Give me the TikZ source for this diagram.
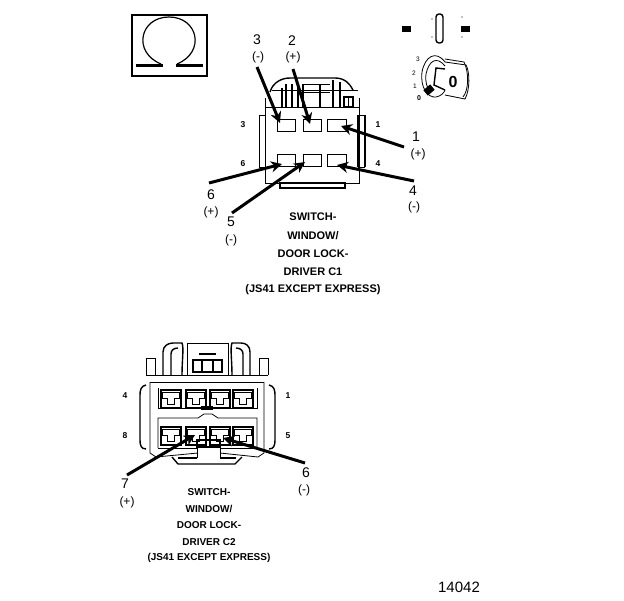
\documentclass[tikz,border=0pt]{standalone}
\usepackage{fontspec}
\setmainfont{Liberation Sans}
\usetikzlibrary{arrows.meta}
\tikzset{
  thinline/.style={line width=0.8pt},
  midline/.style={line width=1.4pt},
  pointer/.style={line width=3pt,-{Stealth[length=11pt,width=11pt]}},
  cavity/.style={draw,line width=0.9pt,inner sep=0pt,minimum width=18pt,minimum height=12pt},
  cavitytwo/.style={draw,line width=1.1pt,inner sep=0pt,minimum width=20pt,minimum height=18pt},
  pinno/.style={font=\bfseries\fontsize{8.5}{8.5}\selectfont,inner sep=0pt},
  posno/.style={font=\fontsize{6.5}{6.5}\selectfont,inner sep=0pt},
  callout/.style={font=\fontsize{14}{14}\selectfont,inner sep=0pt},
  sign/.style={font=\fontsize{12}{12}\selectfont,inner sep=0pt},
  caption/.style={font=\bfseries\fontsize{11}{11}\selectfont,inner sep=0pt},
  captiontwo/.style={font=\bfseries\fontsize{10}{10}\selectfont,inner sep=0pt},
  solidblack/.style={fill=black,draw=none}
}
\newcommand{\cavlip}[1]{%
  \draw[line width=0.9pt] ([xshift=2pt,yshift=-3pt]#1.north west) -- ([xshift=-2pt,yshift=-3pt]#1.north east)
    -- ([xshift=-2pt,yshift=-9pt]#1.north east) -- ([xshift=-7pt,yshift=-9pt]#1.north east)
    -- ([xshift=-7pt,yshift=-15pt]#1.north east) -- ([xshift=7pt,yshift=-15pt]#1.north west)
    -- ([xshift=7pt,yshift=-9pt]#1.north west) -- ([xshift=2pt,yshift=-9pt]#1.north west) -- cycle;}
\begin{document}
\begin{tikzpicture}[x=1pt,y=-1pt]
  \useasboundingbox (0,0) rectangle (624,600);
  % ohm symbol
  \draw[line width=2pt] (132,15) rectangle (207,76);
  \draw[line width=1.2pt] (161,64) .. controls (132,52) and (140,17) .. (169,17) .. controls (198,17) and (206,52) .. (177,64);
  \draw[line width=3pt] (136,65) -- (163,65);
  \draw[line width=3pt] (176,65) -- (203,65);
  % switch position symbol
  \fill[solidblack] (402,26) rectangle (411,32);
  \fill[solidblack] (461,26) rectangle (470,32);
  \draw[line width=1.4pt,rounded corners=3pt] (436,14) rectangle (443,43);
  \fill (432,19) circle (0.6pt);
  \fill (432,37) circle (0.6pt);
  \fill (462,17) circle (0.6pt);
  \fill (462,37) circle (0.6pt);
  \node[posno] (pos3) at (418,59) {3};
  \node[posno] (pos2) at (414,73) {2};
  \node[posno] (pos1) at (415,86) {1};
  \node[posno,font=\bfseries\fontsize{7}{7}\selectfont] (pos0) at (419,98) {0};
  \draw[thinline] (445,62) .. controls (436,50) and (425,56) .. (422,72) .. controls (420,88) and (428,98) .. (436,97) .. controls (441,96) and (444,93) .. (445,90);
  \draw[thinline] (445,66) .. controls (437,56) and (429,60) .. (426,74) .. controls (425,82) and (427,88) .. (430,91);
  \draw[thinline] (445,62) -- (466,65) .. controls (470,72) and (470,90) .. (465,99) -- (445,95);
  \draw[thinline] (445,59) -- (464,62) .. controls (469,72) and (469,90) .. (463,97);
  \draw[midline] (445,69) -- (436,68) -- (434,85) -- (445,90);
  \fill[rotate around={40:(429,90)}] (424.5,86.5) rectangle (433.5,93.5);
  \node[font=\bfseries\fontsize{16}{16}\selectfont,inner sep=0pt] (keyzero) at (453,82) {0};
  % C1 connector
  \draw[thinline] (265,98) -- (265,183) -- (359,183) -- (359,98);
  \draw[thinline] (259,115) -- (259,167) -- (265,167);
  \draw[thinline] (259,115) -- (265,115);
  \draw[midline] (365,115) -- (365,167);
  \draw[midline] (358,115) -- (358,167);
  \draw[thinline] (358,115) -- (365,115);
  \draw[thinline] (358,167) -- (365,167);
  \draw[midline] (270,92) .. controls (273,82) and (282,78) .. (290,78) -- (335,78) .. controls (345,78) and (350,84) .. (353,90);
  \draw[thinline] (272,90) -- (358,90);
  \draw[thinline] (265,107) -- (359,107);
  \draw[midline] (282,88) -- (282,107);
  \draw[midline] (286,84) -- (286,107);
  \draw[midline] (292,84) -- (292,107);
  \draw[midline] (298,84) -- (298,107);
  \draw[midline] (303,84) -- (303,107);
  \draw[midline] (320,84) -- (320,107);
  \draw[line width=2pt] (333,80) -- (333,107);
  \draw[line width=2pt] (340,82) -- (340,107);
  \draw[thinline] (303,84) -- (330,84);
  \draw[thinline] (303,92) -- (330,92);
  \draw[midline] (344,97) rectangle (353,107);
  \draw[midline] (348.5,97) -- (348.5,107);
  \draw[midline] (280,183) rectangle (345,188);
  \node[cavity] (c1a) at (286,125) {};
  \node[cavity] (c1b) at (312,125) {};
  \node[cavity,minimum width=19pt] (c1c) at (336.5,125) {};
  \node[cavity] (c1d) at (286,160) {};
  \node[cavity] (c1e) at (312,160) {};
  \node[cavity,minimum width=19pt] (c1f) at (336.5,160) {};
  \node[pinno] (pa3) at (243,125) {3};
  \node[pinno] (pa1) at (378,125) {1};
  \node[pinno] (pa6) at (243,164) {6};
  \node[pinno] (pa4) at (378,164) {4};
  \node[callout] (n3) at (257,40) {3};
  \node[sign] (s3) at (258,57) {(-)};
  \node[callout] (n2) at (292,41) {2};
  \node[sign] (s2) at (293,57) {(+)};
  \node[callout] (n1) at (416,137) {1};
  \node[sign] (s1) at (418,154) {(+)};
  \node[callout] (n4) at (413,191) {4};
  \node[sign] (s4) at (414,207) {(-)};
  \node[callout] (n6) at (211,195) {6};
  \node[sign] (s6) at (211,212) {(+)};
  \node[callout] (n5) at (231,222) {5};
  \node[sign] (s5) at (231,240) {(-)};
  \coordinate (t3) at (257,67);
  \coordinate (t2) at (293,69);
  \coordinate (t1) at (404,147);
  \coordinate (t6) at (209,183);
  \coordinate (t5) at (232,213);
  \coordinate (t4) at (414,181);
  \coordinate (h3) at (280,123);
  \coordinate (h2) at (310,124);
  \coordinate (h1) at (341,126);
  \coordinate (h6) at (282,164);
  \coordinate (h5) at (305,162);
  \coordinate (h4) at (337,165);
  \draw[pointer] (t3) -- (h3);
  \draw[pointer] (t2) -- (h2);
  \draw[pointer] (t1) -- (h1);
  \draw[pointer] (t6) -- (h6);
  \draw[pointer] (t5) -- (h5);
  \draw[pointer] (t4) -- (h4);
  \node[caption] (capa1) at (313,217) {SWITCH-};
  \node[caption] (capa2) at (313,236) {WINDOW/};
  \node[caption] (capa3) at (313,254) {DOOR LOCK-};
  \node[caption] (capa4) at (313,272) {DRIVER C1};
  \node[caption] (capa5) at (313,290) {(JS41 EXCEPT EXPRESS)};
  % C2 connector
  \draw[thinline] (146,375) -- (146,358) -- (155,358) -- (155,375);
  \draw[thinline] (259,375) -- (259,358) -- (268,358) -- (268,375);
  \draw[thinline] (146,375) -- (268,375);
  \draw[thinline] (150,382) -- (264,382);
  \draw[thinline] (150,382) -- (150,453) -- (156,457) -- (198,453);
  \draw[thinline] (264,382) -- (264,453) -- (258,457) -- (220,453);
  \draw[midline] (146,385) .. controls (141,386) and (140,390) .. (140,395) -- (140,440) .. controls (140,445) and (141,449) .. (146,449);
  \draw[midline] (269,385) .. controls (274,386) and (275,390) .. (275,395) -- (275,440) .. controls (275,445) and (274,449) .. (269,449);
  \draw[thinline] (158,388) -- (158,408) -- (257,408) -- (257,388);
  \draw[thinline] (158,448) -- (158,418) -- (198,418) -- (204,414) -- (212,414) -- (218,418) -- (257,418) -- (257,448);
  \draw[thinline] (158,448) -- (197,448);
  \draw[thinline] (220,448) -- (257,448);
  \draw[midline] (163,375) -- (163,352) .. controls (163,346) and (168,343) .. (173,343) -- (182,343) .. controls (184,348) and (182,360) .. (182,375);
  \draw[midline] (171,375) -- (171,354) .. controls (171,350) and (174,348) .. (178,348);
  \draw[midline] (250,375) -- (250,352) .. controls (250,346) and (246,343) .. (241,343) -- (232,343) .. controls (230,348) and (232,360) .. (232,375);
  \draw[midline] (243,375) -- (243,354) .. controls (243,350) and (240,348) .. (236,348);
  \draw[thinline] (187,343) -- (228,343);
  \draw[thinline] (187,343) -- (187,375);
  \draw[thinline] (228,343) -- (228,375);
  \draw[midline] (193,360) rectangle (222,372);
  \draw[midline] (202,360) -- (202,372);
  \draw[midline] (213,360) -- (213,372);
  \draw[midline] (199,354) -- (216,354);
  \draw[midline] (172,457) -- (178,464) -- (235,464) -- (242,457);
  \draw[midline] (178,458) -- (197,458);
  \draw[midline] (220,458) -- (236,458);
  \draw[midline] (197,440) rectangle (220,447);
  \draw[thinline] (197,447) -- (197,458);
  \draw[thinline] (220,447) -- (220,458);
  \draw[midline] (202,407) rectangle (212,409);
  \node[cavitytwo] (c2a) at (171,399) {};
  \node[cavitytwo] (c2b) at (196,399) {};
  \node[cavitytwo] (c2c) at (220,399) {};
  \node[cavitytwo] (c2d) at (243,399) {};
  \node[cavitytwo] (c2e) at (171,436) {};
  \node[cavitytwo] (c2f) at (196,436) {};
  \node[cavitytwo] (c2g) at (220,436) {};
  \node[cavitytwo] (c2h) at (243,436) {};
  \cavlip{c2a}
  \cavlip{c2b}
  \cavlip{c2c}
  \cavlip{c2d}
  \cavlip{c2e}
  \cavlip{c2f}
  \cavlip{c2g}
  \cavlip{c2h}
  \node[pinno] (pb4) at (125,396) {4};
  \node[pinno] (pb1) at (288,396) {1};
  \node[pinno] (pb8) at (125,436) {8};
  \node[pinno] (pb5) at (288,436) {5};
  \node[callout] (n7) at (125,484) {7};
  \node[sign] (s7) at (127,502) {(+)};
  \node[callout] (m6) at (306,473) {6};
  \node[sign] (r6) at (304,490) {(-)};
  \coordinate (t7) at (127,475);
  \coordinate (u6) at (305,463);
  \coordinate (h7) at (195,435);
  \coordinate (w6) at (223,438);
  \draw[pointer] (t7) -- (h7);
  \draw[pointer] (u6) -- (w6);
  \node[captiontwo] (capb1) at (209,492) {SWITCH-};
  \node[captiontwo] (capb2) at (209,509) {WINDOW/};
  \node[captiontwo] (capb3) at (209,525) {DOOR LOCK-};
  \node[captiontwo] (capb4) at (209,542) {DRIVER C2};
  \node[captiontwo] (capb5) at (209,558) {(JS41 EXCEPT EXPRESS)};
  \node[font=\fontsize{15}{15}\selectfont,inner sep=0pt] (figno) at (459,587) {14042};
\end{tikzpicture}
\end{document}
